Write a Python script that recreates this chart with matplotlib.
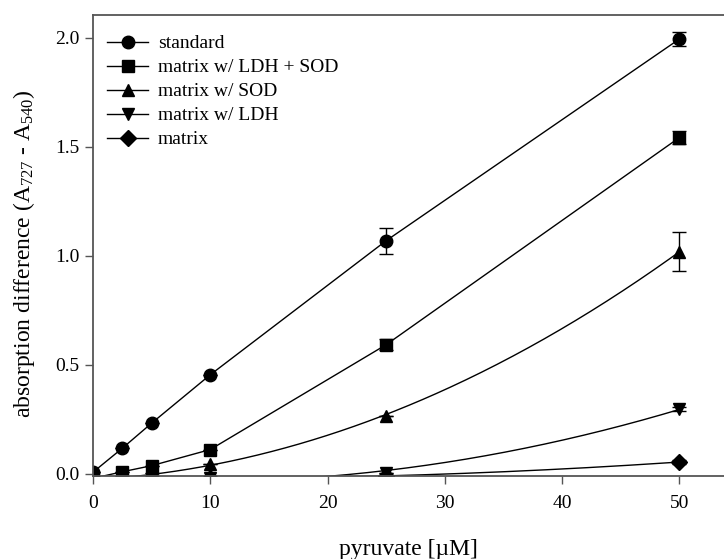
import numpy as np
import matplotlib.pyplot as plt

plt.rcParams['font.family'] = ['Liberation Serif', 'DejaVu Serif']
plt.rcParams['mathtext.fontset'] = 'custom'
plt.rcParams['mathtext.rm'] = 'Liberation Serif'
plt.rcParams['mathtext.it'] = 'Liberation Serif:italic'

# --- данные ---
x = np.array([0, 2.5, 5, 10, 25, 50])

labels = ["standard", "matrix w/ LDH + SOD", "matrix w/ SOD", "matrix w/ LDH", "matrix"]
markers = ['o', 's', '^', 'v', 'D']

standard = [0.008, 0.118, 0.233, 0.455, 1.07, 1.995]
ldh_sod = [-0.02, 0.01, 0.038, 0.112, 0.593, 1.543]
sod = [-0.03, -0.02, 0.003, 0.046, 0.268, 1.02]
ldh = [-0.03, -0.03, -0.03, -0.02, 0.005, 0.298]
matrix = [-0.02, -0.02, -0.02, -0.02, -0.01, 0.055]

err_standard = [0.0, 0.0, 0.0, 0.0, 0.06, 0.034]
err_ldh_sod = [0.0, 0.0, 0.0, 0.0, 0.025, 0.028]
err_sod = [0.0, 0.0, 0.0, 0.0, 0.0, 0.088]
err_ldh = [0.0, 0.0, 0.0, 0.0, 0.0, 0.01]
err_matrix = [0.0, 0.0, 0.0, 0.0, 0.0, 0.01]

series = [standard, ldh_sod, sod, ldh, matrix]
errors = [err_standard, err_ldh_sod, err_sod, err_ldh, err_matrix]
# какие кривые рисуем аппроксимацией, а какие — отрезками
curved = [False, False, True, True, True]

fig = plt.figure(figsize=(7.24, 5.59), dpi=100)
ax = fig.add_axes([93 / 724, 1 - 475.7 / 559, 1 - 93 / 724, (475.7 - 15) / 559])

xx = np.linspace(0, 50, 300)
for y, e, m, lab, c in zip(series, errors, markers, labels, curved):
    y = np.array(y)
    if c:
        coef = np.polyfit(x, y, 2)
        ax.plot(xx, np.polyval(coef, xx), color='black', lw=1.0)
    else:
        ax.plot(x, y, color='black', lw=1.0)
    ms = 9 if m != 'D' else 8
    ax.errorbar(x, y, yerr=e, fmt=m, color='black', ms=ms,
                ecolor='black', elinewidth=1.0, capsize=5, capthick=1.0, label=lab)

handles = [plt.Line2D([], [], color='black', lw=1.0, marker=m,
                      ms=9 if m != 'D' else 8) for m in markers]
ax.legend(handles, labels, loc='upper left', frameon=False, fontsize=14,
          handlelength=2.1, handletextpad=0.5, labelspacing=0.33,
          borderaxespad=0.0, bbox_to_anchor=(0.010, 0.974))

ax.set_xlim(0, 53.8)
ax.set_ylim(-0.008, 2.105)
ax.set_xticks([0, 10, 20, 30, 40, 50])
ax.set_yticks([0.0, 0.5, 1.0, 1.5, 2.0])
ax.set_yticklabels(['0.0', '0.5', '1.0', '1.5', '2.0'])
ax.tick_params(direction='out', length=6, width=1, labelsize=14, color='#555555')
ax.tick_params(axis='x', pad=8)

for s in ['left', 'bottom', 'top']:
    ax.spines[s].set_color('#555555')
    ax.spines[s].set_linewidth(1.3)
ax.spines['right'].set_visible(False)

ax.set_xlabel('pyruvate [µM]', fontsize=17, labelpad=19)
ax.set_ylabel('absorption difference (A$_{\\mathit{727}}$ - A$_{540}$)', fontsize=17)
ax.yaxis.set_label_coords(-0.089, 0.483)

plt.savefig('out.png', dpi=100)
